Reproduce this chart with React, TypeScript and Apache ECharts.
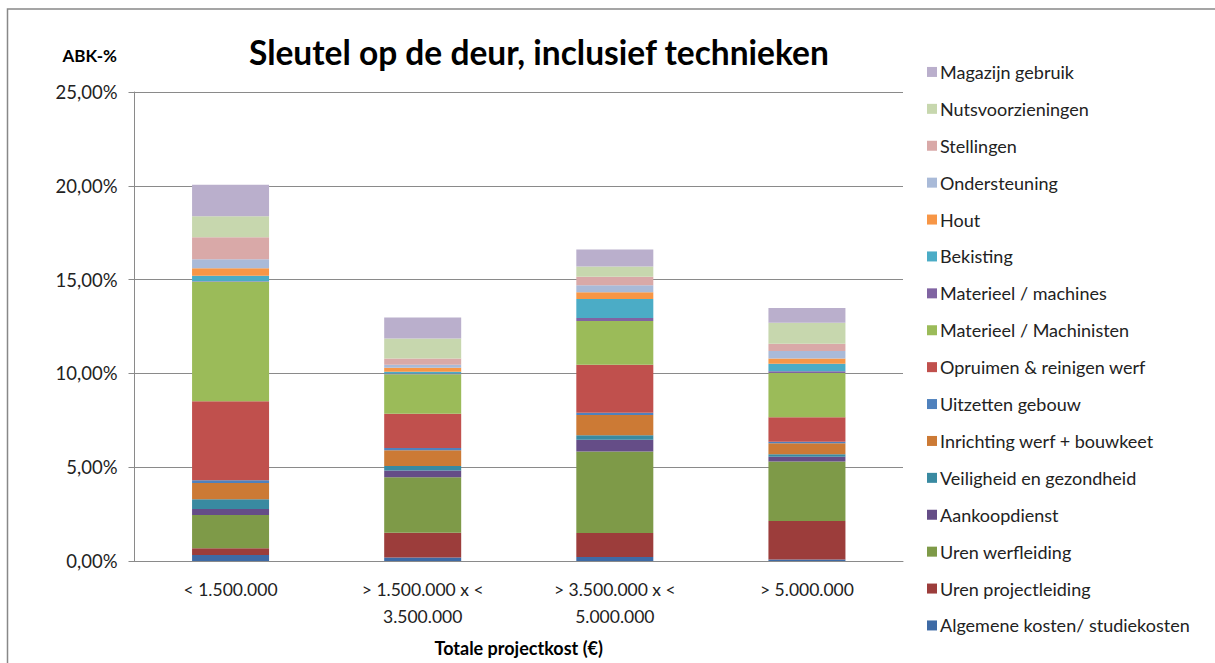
import React, { useEffect, useRef } from "react";
import * as echarts from "echarts";

const categories = ["< 1.500.000", "> 1.500.000 x <\n3.500.000", "> 3.500.000 x <\n5.000.000", "> 5.000.000"];

const seriesNames = [
  "Algemene kosten/ studiekosten",
  "Uren projectleiding",
  "Uren werfleiding",
  "Aankoopdienst",
  "Veiligheid en gezondheid",
  "Inrichting werf + bouwkeet",
  "Uitzetten gebouw",
  "Opruimen & reinigen werf",
  "Materieel / Machinisten",
  "Materieel / machines",
  "Bekisting",
  "Hout",
  "Ondersteuning",
  "Stellingen",
  "Nutsvoorzieningen",
  "Magazijn gebruik",
];

const algemene = [0.32, 0.18, 0.21, 0.08];
const urenProjectleiding = [0.36, 1.33, 1.28, 2.05];
const urenWerfleiding = [1.77, 2.95, 4.35, 3.17];
const aankoopdienst = [0.32, 0.37, 0.62, 0.26];
const veiligheid = [0.52, 0.23, 0.24, 0.13];
const inrichting = [0.87, 0.84, 1.08, 0.58];
const uitzetten = [0.14, 0.12, 0.12, 0.09];
const opruimen = [4.22, 1.83, 2.56, 1.3];
const machinisten = [6.36, 2.11, 2.33, 2.36];
const machines = [0.03, 0.03, 0.16, 0.1];
const bekisting = [0.29, 0.1, 1.01, 0.39];
const hout = [0.41, 0.21, 0.36, 0.29];
const ondersteuning = [0.48, 0.16, 0.38, 0.39];
const stellingen = [1.17, 0.34, 0.45, 0.39];
const nuts = [1.12, 1.06, 0.55, 1.12];
const magazijn = [1.67, 1.12, 0.91, 0.78];

const seriesValues = [
  algemene, urenProjectleiding, urenWerfleiding, aankoopdienst, veiligheid, inrichting,
  uitzetten, opruimen, machinisten, machines, bekisting, hout, ondersteuning, stellingen, nuts, magazijn,
];

const colors = [
  "#3E6AA5", "#9C3D3B", "#7E9A48", "#654D87", "#398AA1", "#CC7A35",
  "#4F81BD", "#C0504D", "#9BBB59", "#8064A2", "#4BACC6", "#F79646",
  "#A9BAD8", "#D9A9A8", "#C7D7AE", "#BAAFCC",
];

const FONT = "Lato, 'Open Sans', sans-serif";

export default function App() {
  const ref = useRef<HTMLDivElement>(null);
  useEffect(() => {
    document.body.style.margin = "0";
    if (!ref.current) return;
    const chart = echarts.init(ref.current, null, { renderer: "svg" });
    chart.setOption({
      animation: false,
      backgroundColor: "#ffffff",
      color: colors,
      textStyle: { fontFamily: FONT },
      title: {
        text: "Sleutel op de deur, inclusief technieken",
        left: 244,
        top: 30,
        textStyle: { fontFamily: FONT, fontSize: 33.5, fontWeight: "bold", color: "#000" },
      },
      legend: {
        orient: "vertical",
        left: 922,
        top: 56,
        itemWidth: 10,
        itemHeight: 10,
        itemGap: 15,
        icon: "rect",
        data: [...seriesNames].reverse(),
        textStyle: { fontFamily: FONT, fontSize: 18, color: "#222", lineHeight: 21.9, padding: [0, 0, 0, -2] },
      },
      grid: { left: 134.5, right: 312, top: 92, bottom: 102, outerBoundsMode: "none" },
      xAxis: {
        type: "category",
        data: categories,
        name: "Totale projectkost (€)",
        nameLocation: "middle",
        nameGap: 78,
        nameTextStyle: { fontFamily: FONT, fontSize: 18, fontWeight: "bold", color: "#000" },
        axisLine: { lineStyle: { color: "#8a8a8a" } },
        axisTick: { show: false },
        axisLabel: { fontFamily: FONT, fontSize: 17.5, color: "#222", lineHeight: 27, margin: 15 },
      },
      yAxis: {
        type: "value",
        min: 0,
        max: 25,
        interval: 5,
        axisLine: { show: true, lineStyle: { color: "#8a8a8a" } },
        axisTick: { show: true, length: 6, lineStyle: { color: "#8a8a8a" } },
        splitLine: { lineStyle: { color: "#8a8a8a" } },
        axisLabel: {
          fontFamily: FONT,
          fontSize: 18.5,
          color: "#222",
          margin: 17,
          formatter: (v: number) => v.toFixed(2).replace(".", ",") + "%",
        },
      },
      graphic: [
        {
          type: "rect",
          shape: { x: 7.5, y: 9, width: 1400, height: 1000 },
          style: { fill: "none", stroke: "#888", lineWidth: 1.5 },
          silent: true,
        },
        {
          type: "text",
          x: 117,
          y: 55,
          style: {
            text: "ABK-%",
            font: `bold 17px ${FONT}`,
            fill: "#000",
            textAlign: "right",
            textVerticalAlign: "middle",
          },
        },
      ],
      series: seriesNames.map((name, i) => ({
        name,
        type: "bar",
        stack: "total",
        barWidth: 77,
        data: seriesValues[i],
      })),
    });
    return () => chart.dispose();
  }, []);
  return <div ref={ref} style={{ width: 1215, height: 663 }} />;
}
